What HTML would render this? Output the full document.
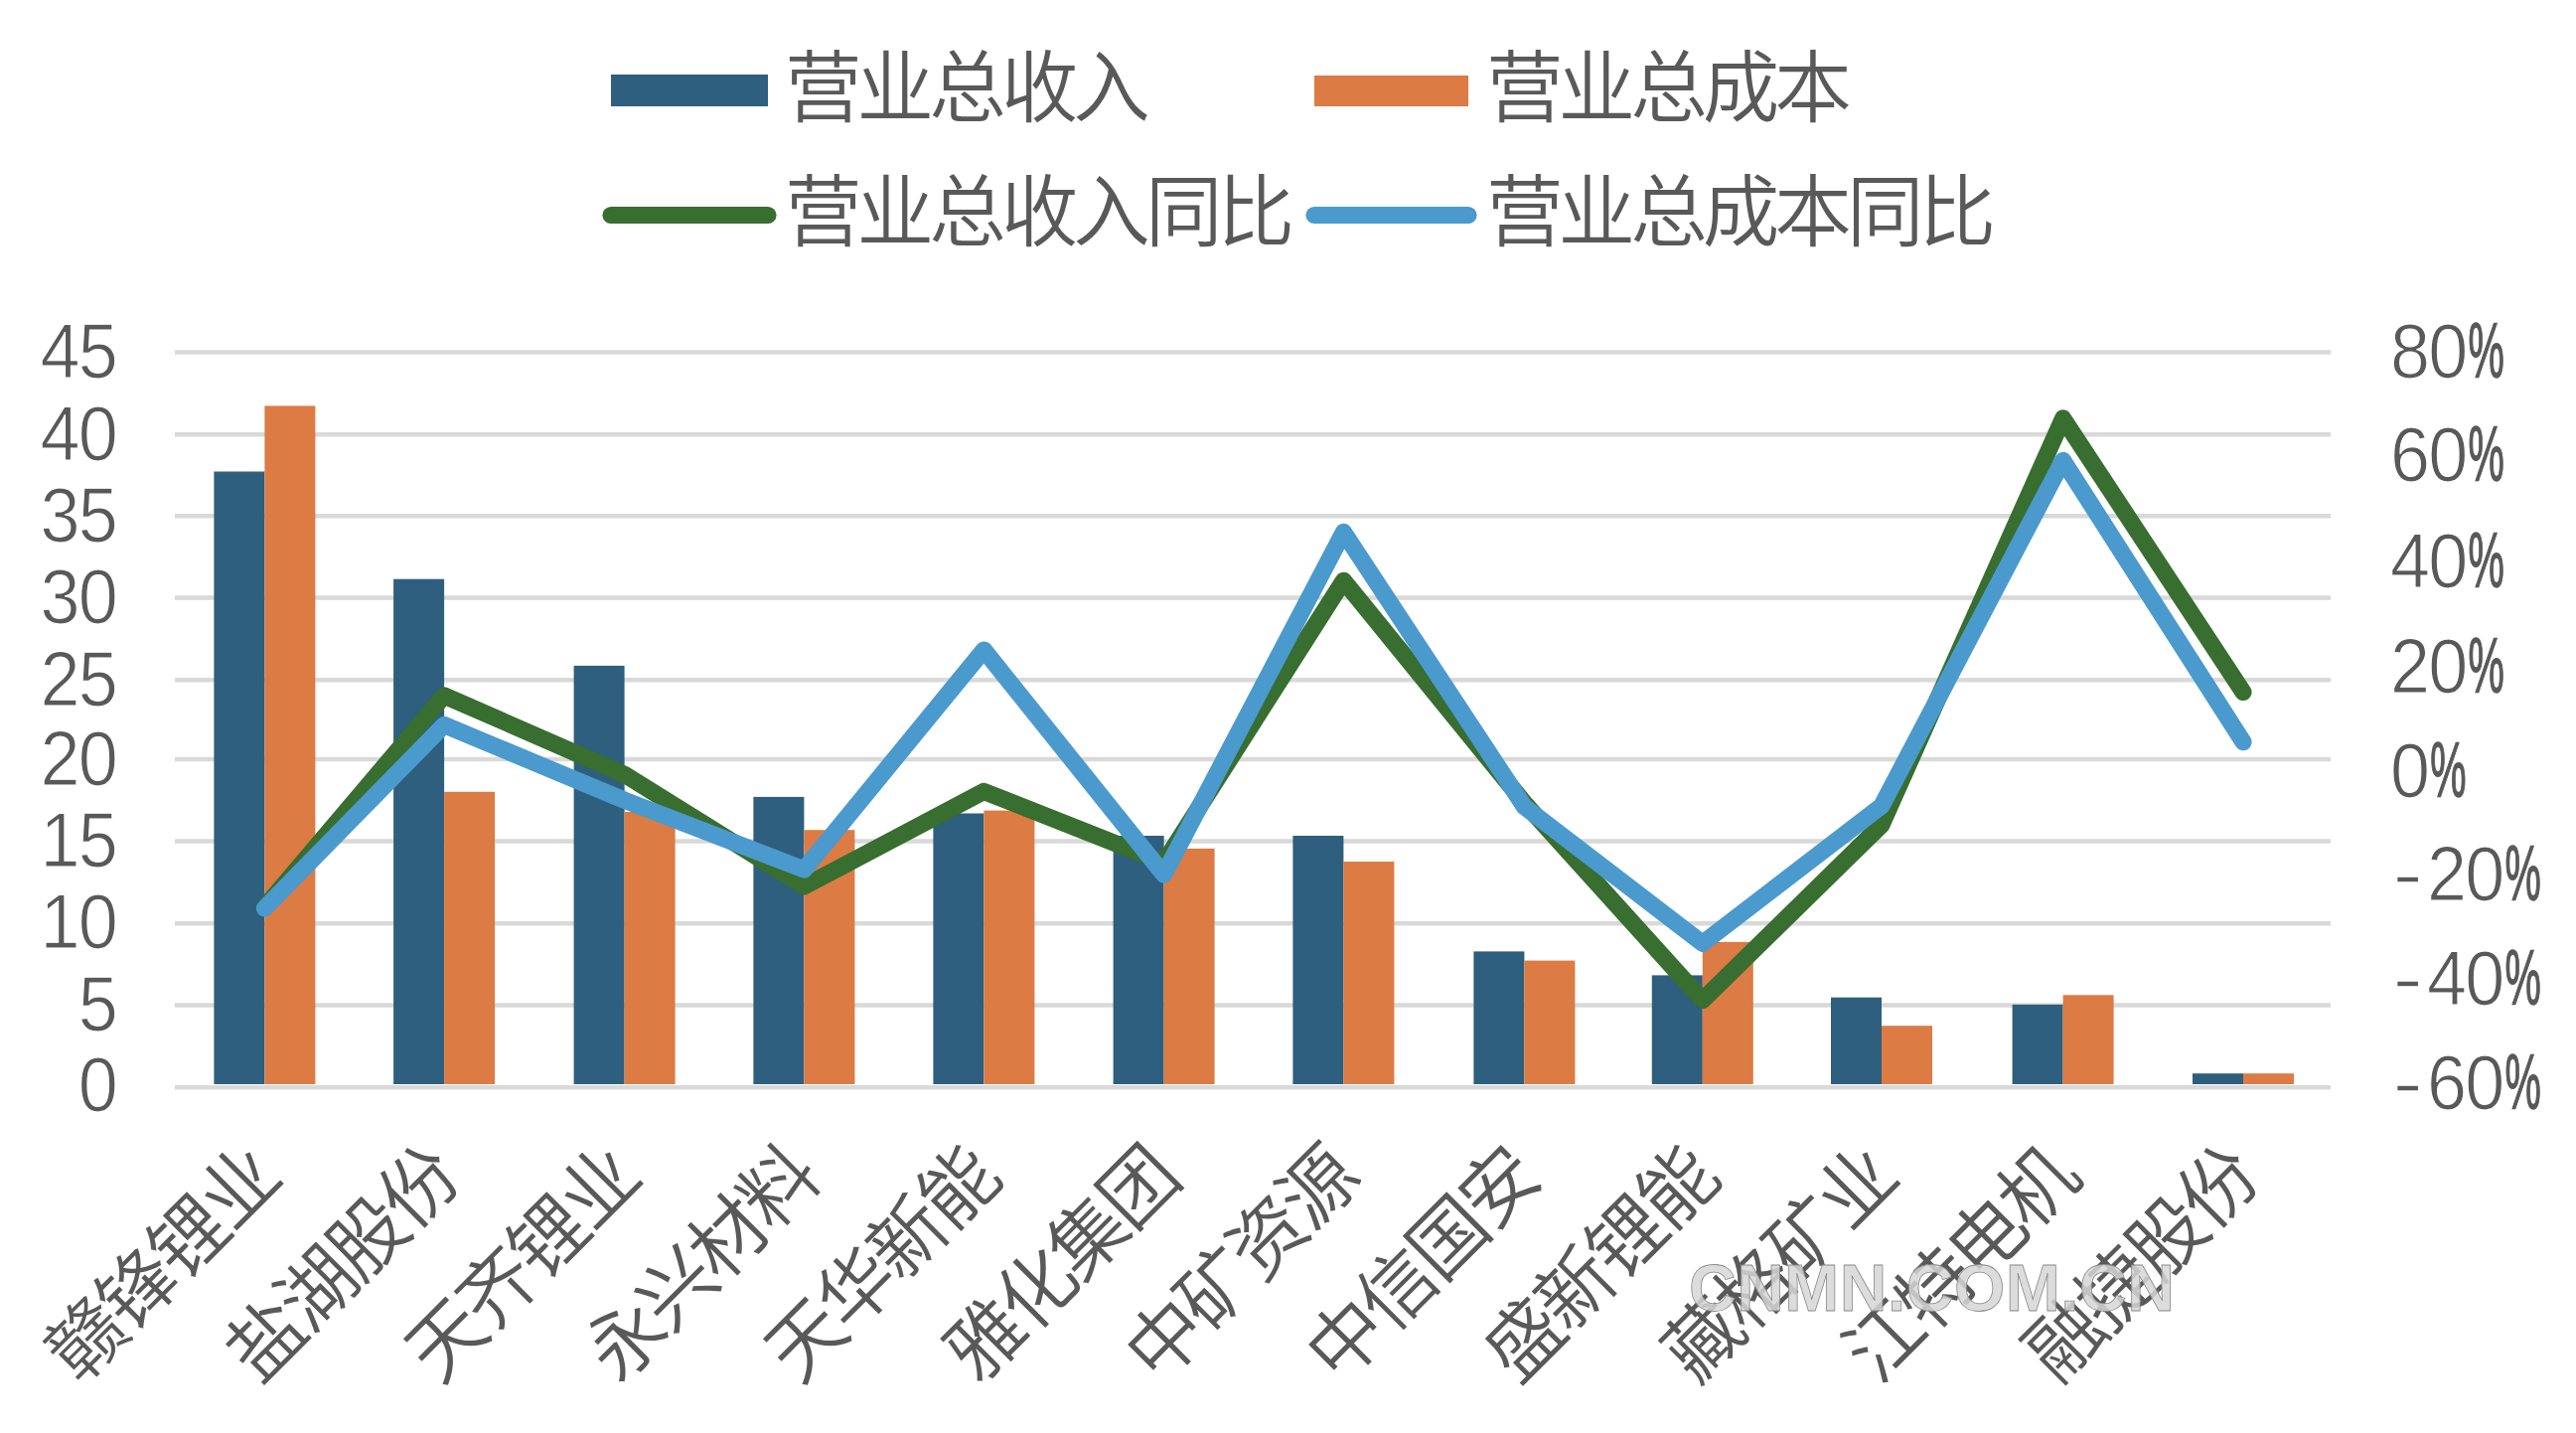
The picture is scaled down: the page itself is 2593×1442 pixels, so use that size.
<!DOCTYPE html>
<html><head><meta charset="utf-8"><title>营业总收入与营业总成本</title>
<style>html,body{margin:0;padding:0;background:#fff;} body{width:2593px;height:1442px;overflow:hidden;} svg{display:block;}</style>
</head><body>
<svg width="2593" height="1442" viewBox="0 0 2593 1442"><rect width="2593" height="1442" fill="#fff"/><line x1="176" y1="354.5" x2="2346" y2="354.5" stroke="#D9D9D9" stroke-width="4.5"/><line x1="176" y1="437.3" x2="2346" y2="437.3" stroke="#D9D9D9" stroke-width="4.5"/><line x1="176" y1="519.2" x2="2346" y2="519.2" stroke="#D9D9D9" stroke-width="4.5"/><line x1="176" y1="601.4" x2="2346" y2="601.4" stroke="#D9D9D9" stroke-width="4.5"/><line x1="176" y1="684.3" x2="2346" y2="684.3" stroke="#D9D9D9" stroke-width="4.5"/><line x1="176" y1="764.0" x2="2346" y2="764.0" stroke="#D9D9D9" stroke-width="4.5"/><line x1="176" y1="846.6" x2="2346" y2="846.6" stroke="#D9D9D9" stroke-width="4.5"/><line x1="176" y1="929.3" x2="2346" y2="929.3" stroke="#D9D9D9" stroke-width="4.5"/><line x1="176" y1="1011.5" x2="2346" y2="1011.5" stroke="#D9D9D9" stroke-width="4.5"/><line x1="176" y1="1094.3" x2="2346" y2="1094.3" stroke="#D9D9D9" stroke-width="4.5"/><rect x="215.4" y="474.5" width="51.0" height="616.5" fill="#2E5F7E"/><rect x="266.4" y="408.4" width="51.0" height="682.6" fill="#DC7B44"/><rect x="396.1" y="582.7" width="51.0" height="508.3" fill="#2E5F7E"/><rect x="447.1" y="796.8" width="51.0" height="294.2" fill="#DC7B44"/><rect x="577.6" y="669.9" width="51.0" height="421.1" fill="#2E5F7E"/><rect x="628.6" y="817.0" width="51.0" height="274.0" fill="#DC7B44"/><rect x="758.4" y="801.9" width="51.0" height="289.1" fill="#2E5F7E"/><rect x="809.4" y="835.2" width="51.0" height="255.8" fill="#DC7B44"/><rect x="939.4" y="818.5" width="51.0" height="272.5" fill="#2E5F7E"/><rect x="990.4" y="815.6" width="51.0" height="275.4" fill="#DC7B44"/><rect x="1120.6" y="841.0" width="51.0" height="250.0" fill="#2E5F7E"/><rect x="1171.6" y="853.9" width="51.0" height="237.1" fill="#DC7B44"/><rect x="1301.4" y="841.0" width="51.0" height="250.0" fill="#2E5F7E"/><rect x="1352.4" y="867.0" width="51.0" height="224.0" fill="#DC7B44"/><rect x="1483.4" y="957.4" width="51.0" height="133.6" fill="#2E5F7E"/><rect x="1534.4" y="966.6" width="51.0" height="124.4" fill="#DC7B44"/><rect x="1662.8" y="981.4" width="51.0" height="109.6" fill="#2E5F7E"/><rect x="1713.8" y="947.9" width="51.0" height="143.1" fill="#DC7B44"/><rect x="1843.0" y="1003.7" width="51.0" height="87.3" fill="#2E5F7E"/><rect x="1894.0" y="1032.2" width="51.0" height="58.8" fill="#DC7B44"/><rect x="2025.6" y="1010.9" width="51.0" height="80.1" fill="#2E5F7E"/><rect x="2076.6" y="1001.3" width="51.0" height="89.7" fill="#DC7B44"/><rect x="2207.0" y="1080.2" width="51.0" height="10.8" fill="#2E5F7E"/><rect x="2258.0" y="1080.2" width="51.0" height="10.8" fill="#DC7B44"/><polyline points="266.4,913.0 447.1,700 628.6,779.3 809.4,892 990.4,796.4 1171.6,868 1352.4,584.3 1534.4,808 1713.8,1006.5 1894.0,830 2076.6,420.9 2258.0,696.5" fill="none" stroke="#386E30" stroke-width="17.2" stroke-linejoin="round" stroke-linecap="round"/><polyline points="266.4,914.0 447.1,729.5 628.6,805.2 809.4,875.0 990.4,654.0 1171.6,880 1352.4,535.4 1534.4,811.7 1713.8,949.3 1894.0,811 2076.6,463.4 2258.0,746.7" fill="none" stroke="#4A9ACE" stroke-width="17.2" stroke-linejoin="round" stroke-linecap="round"/><text transform="translate(117.0,379.5) scale(0.935,1)" text-anchor="end" font-family="'Liberation Sans',sans-serif" font-size="77" fill="#595959" stroke="#fff" stroke-width="1.2" letter-spacing="-1.9">45</text><text transform="translate(117.0,462.5) scale(0.935,1)" text-anchor="end" font-family="'Liberation Sans',sans-serif" font-size="77" fill="#595959" stroke="#fff" stroke-width="1.2" letter-spacing="-1.9">40</text><text transform="translate(117.0,544.5) scale(0.935,1)" text-anchor="end" font-family="'Liberation Sans',sans-serif" font-size="77" fill="#595959" stroke="#fff" stroke-width="1.2" letter-spacing="-1.9">35</text><text transform="translate(117.0,626.5) scale(0.935,1)" text-anchor="end" font-family="'Liberation Sans',sans-serif" font-size="77" fill="#595959" stroke="#fff" stroke-width="1.2" letter-spacing="-1.9">30</text><text transform="translate(117.0,709.5) scale(0.935,1)" text-anchor="end" font-family="'Liberation Sans',sans-serif" font-size="77" fill="#595959" stroke="#fff" stroke-width="1.2" letter-spacing="-1.9">25</text><text transform="translate(117.0,789.5) scale(0.935,1)" text-anchor="end" font-family="'Liberation Sans',sans-serif" font-size="77" fill="#595959" stroke="#fff" stroke-width="1.2" letter-spacing="-1.9">20</text><text transform="translate(117.0,872.0) scale(0.935,1)" text-anchor="end" font-family="'Liberation Sans',sans-serif" font-size="77" fill="#595959" stroke="#fff" stroke-width="1.2" letter-spacing="-1.9">15</text><text transform="translate(117.0,954.0) scale(0.935,1)" text-anchor="end" font-family="'Liberation Sans',sans-serif" font-size="77" fill="#595959" stroke="#fff" stroke-width="1.2" letter-spacing="-1.9">10</text><text transform="translate(117.0,1036.5) scale(0.935,1)" text-anchor="end" font-family="'Liberation Sans',sans-serif" font-size="77" fill="#595959" stroke="#fff" stroke-width="1.2" letter-spacing="-1.9">5</text><text transform="translate(117.0,1117.5) scale(0.935,1)" text-anchor="end" font-family="'Liberation Sans',sans-serif" font-size="77" fill="#595959" stroke="#fff" stroke-width="1.2" letter-spacing="-1.9">0</text><text transform="translate(2406.0,379.5) scale(0.935,1)" font-family="'Liberation Sans',sans-serif" font-size="77" fill="#595959" stroke="#fff" stroke-width="1.2" letter-spacing="-1.9">80</text><text transform="translate(2484.4,379.5) scale(0.53,1)" font-family="'Liberation Sans',sans-serif" font-size="77" fill="#595959" stroke="#595959" stroke-width="1.4">%</text><text transform="translate(2406.0,484.2) scale(0.935,1)" font-family="'Liberation Sans',sans-serif" font-size="77" fill="#595959" stroke="#fff" stroke-width="1.2" letter-spacing="-1.9">60</text><text transform="translate(2484.4,484.2) scale(0.53,1)" font-family="'Liberation Sans',sans-serif" font-size="77" fill="#595959" stroke="#595959" stroke-width="1.4">%</text><text transform="translate(2406.0,590.5) scale(0.935,1)" font-family="'Liberation Sans',sans-serif" font-size="77" fill="#595959" stroke="#fff" stroke-width="1.2" letter-spacing="-1.9">40</text><text transform="translate(2484.4,590.5) scale(0.53,1)" font-family="'Liberation Sans',sans-serif" font-size="77" fill="#595959" stroke="#595959" stroke-width="1.4">%</text><text transform="translate(2406.0,697.0) scale(0.935,1)" font-family="'Liberation Sans',sans-serif" font-size="77" fill="#595959" stroke="#fff" stroke-width="1.2" letter-spacing="-1.9">20</text><text transform="translate(2484.4,697.0) scale(0.53,1)" font-family="'Liberation Sans',sans-serif" font-size="77" fill="#595959" stroke="#595959" stroke-width="1.4">%</text><text transform="translate(2406.0,801.5) scale(0.935,1)" font-family="'Liberation Sans',sans-serif" font-size="77" fill="#595959" stroke="#fff" stroke-width="1.2" letter-spacing="-1.9">0</text><text transform="translate(2446.2,801.5) scale(0.53,1)" font-family="'Liberation Sans',sans-serif" font-size="77" fill="#595959" stroke="#595959" stroke-width="1.4">%</text><text transform="translate(2408.3,906.0) scale(1.2,1)" font-family="'Liberation Sans',sans-serif" font-size="77" fill="#595959" stroke="#fff" stroke-width="1.6">-</text><text transform="translate(2443.0,906.0) scale(0.935,1)" font-family="'Liberation Sans',sans-serif" font-size="77" fill="#595959" stroke="#fff" stroke-width="1.2" letter-spacing="-1.9">20</text><text transform="translate(2521.4,906.0) scale(0.53,1)" font-family="'Liberation Sans',sans-serif" font-size="77" fill="#595959" stroke="#595959" stroke-width="1.4">%</text><text transform="translate(2408.3,1011.0) scale(1.2,1)" font-family="'Liberation Sans',sans-serif" font-size="77" fill="#595959" stroke="#fff" stroke-width="1.6">-</text><text transform="translate(2443.0,1011.0) scale(0.935,1)" font-family="'Liberation Sans',sans-serif" font-size="77" fill="#595959" stroke="#fff" stroke-width="1.2" letter-spacing="-1.9">40</text><text transform="translate(2521.4,1011.0) scale(0.53,1)" font-family="'Liberation Sans',sans-serif" font-size="77" fill="#595959" stroke="#595959" stroke-width="1.4">%</text><text transform="translate(2408.3,1115.7) scale(1.2,1)" font-family="'Liberation Sans',sans-serif" font-size="77" fill="#595959" stroke="#fff" stroke-width="1.6">-</text><text transform="translate(2443.0,1115.7) scale(0.935,1)" font-family="'Liberation Sans',sans-serif" font-size="77" fill="#595959" stroke="#fff" stroke-width="1.2" letter-spacing="-1.9">60</text><text transform="translate(2521.4,1115.7) scale(0.53,1)" font-family="'Liberation Sans',sans-serif" font-size="77" fill="#595959" stroke="#595959" stroke-width="1.4">%</text><text transform="translate(285.2,1189) rotate(-45) scale(1,1.02)" text-anchor="end" font-family="'Liberation Sans','Noto Sans CJK SC',sans-serif" font-weight="350" font-size="76" letter-spacing="-3.4" fill="#595959">赣锋锂业</text><text transform="translate(465.9,1189) rotate(-45) scale(1,1.02)" text-anchor="end" font-family="'Liberation Sans','Noto Sans CJK SC',sans-serif" font-weight="350" font-size="76" letter-spacing="-3.4" fill="#595959">盐湖股份</text><text transform="translate(647.4,1189) rotate(-45) scale(1,1.02)" text-anchor="end" font-family="'Liberation Sans','Noto Sans CJK SC',sans-serif" font-weight="350" font-size="76" letter-spacing="-3.4" fill="#595959">天齐锂业</text><text transform="translate(828.2,1189) rotate(-45) scale(1,1.02)" text-anchor="end" font-family="'Liberation Sans','Noto Sans CJK SC',sans-serif" font-weight="350" font-size="76" letter-spacing="-3.4" fill="#595959">永兴材料</text><text transform="translate(1009.2,1189) rotate(-45) scale(1,1.02)" text-anchor="end" font-family="'Liberation Sans','Noto Sans CJK SC',sans-serif" font-weight="350" font-size="76" letter-spacing="-3.4" fill="#595959">天华新能</text><text transform="translate(1190.4,1189) rotate(-45) scale(1,1.02)" text-anchor="end" font-family="'Liberation Sans','Noto Sans CJK SC',sans-serif" font-weight="350" font-size="76" letter-spacing="-3.4" fill="#595959">雅化集团</text><text transform="translate(1371.2,1189) rotate(-45) scale(1,1.02)" text-anchor="end" font-family="'Liberation Sans','Noto Sans CJK SC',sans-serif" font-weight="350" font-size="76" letter-spacing="-3.4" fill="#595959">中矿资源</text><text transform="translate(1553.2,1189) rotate(-45) scale(1,1.02)" text-anchor="end" font-family="'Liberation Sans','Noto Sans CJK SC',sans-serif" font-weight="350" font-size="76" letter-spacing="-3.4" fill="#595959">中信国安</text><text transform="translate(1732.6,1189) rotate(-45) scale(1,1.02)" text-anchor="end" font-family="'Liberation Sans','Noto Sans CJK SC',sans-serif" font-weight="350" font-size="76" letter-spacing="-3.4" fill="#595959">盛新锂能</text><text transform="translate(1912.8,1189) rotate(-45) scale(1,1.02)" text-anchor="end" font-family="'Liberation Sans','Noto Sans CJK SC',sans-serif" font-weight="350" font-size="76" letter-spacing="-3.4" fill="#595959">藏格矿业</text><text transform="translate(2095.4,1189) rotate(-45) scale(1,1.02)" text-anchor="end" font-family="'Liberation Sans','Noto Sans CJK SC',sans-serif" font-weight="350" font-size="76" letter-spacing="-3.4" fill="#595959">江特电机</text><text transform="translate(2276.8,1189) rotate(-45) scale(1,1.02)" text-anchor="end" font-family="'Liberation Sans','Noto Sans CJK SC',sans-serif" font-weight="350" font-size="76" letter-spacing="-3.4" fill="#595959">融捷股份</text><rect x="615" y="75" width="158" height="32" fill="#2E5F7E"/><rect x="1323" y="76" width="155" height="31" fill="#DC7B44"/><line x1="615" y1="216.5" x2="773" y2="216.5" stroke="#386E30" stroke-width="17.2" stroke-linecap="round"/><line x1="1323" y1="216.5" x2="1478" y2="216.5" stroke="#4A9ACE" stroke-width="17.2" stroke-linecap="round"/><text transform="translate(790,117) scale(1,1.02)" font-family="'Liberation Sans','Noto Sans CJK SC',sans-serif" font-weight="350" font-size="77.5" letter-spacing="-4.9" fill="#595959">营业总收入</text><text transform="translate(1496,117) scale(1,1.02)" font-family="'Liberation Sans','Noto Sans CJK SC',sans-serif" font-weight="350" font-size="77.5" letter-spacing="-4.9" fill="#595959">营业总成本</text><text transform="translate(790,241.5) scale(1,1.02)" font-family="'Liberation Sans','Noto Sans CJK SC',sans-serif" font-weight="350" font-size="77.5" letter-spacing="-4.9" fill="#595959">营业总收入同比</text><text transform="translate(1496,241.5) scale(1,1.02)" font-family="'Liberation Sans','Noto Sans CJK SC',sans-serif" font-weight="350" font-size="77.5" letter-spacing="-4.9" fill="#595959">营业总成本同比</text><text x="1700" y="1319" font-family="'Liberation Sans',sans-serif" font-weight="bold" font-size="66" letter-spacing="0.5" fill="#d6d6d6" fill-opacity="0.85" stroke="#8a8a8a" stroke-width="0.8">CNMN.COM.CN</text></svg>
</body></html>
